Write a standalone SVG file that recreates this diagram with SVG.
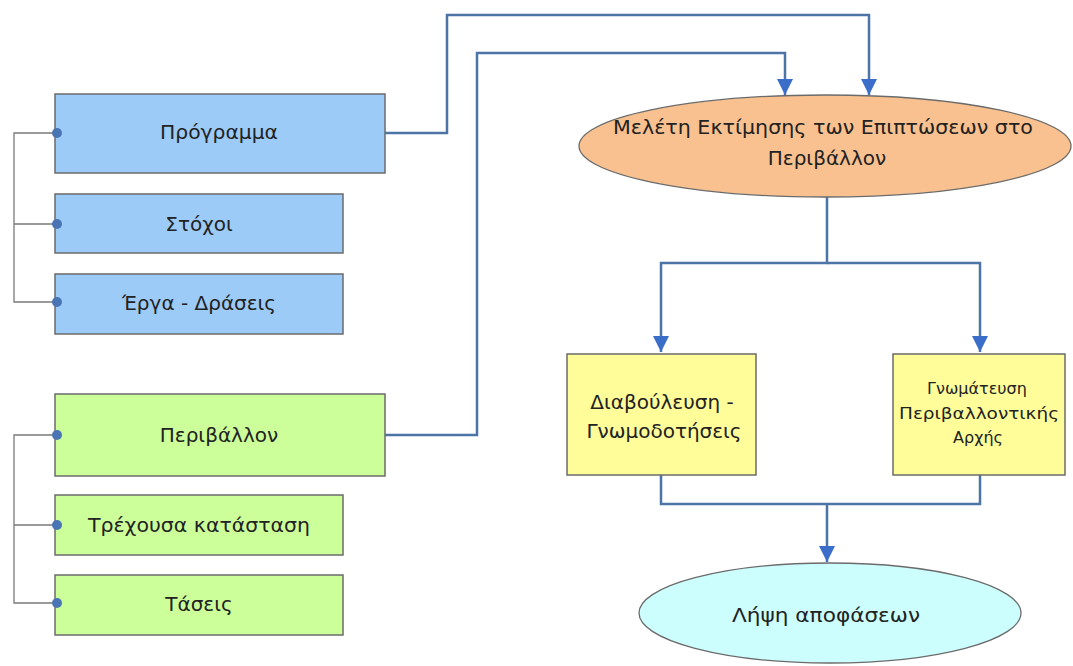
<svg xmlns="http://www.w3.org/2000/svg" width="1073" height="666" viewBox="0 0 1073 666">
<defs>
<style>
.box{stroke:#6b6b6b;stroke-width:1.5}
.blue{fill:#9ccbf8}
.green{fill:#ccfe99}
.yellow{fill:#fefd99}
.t{font-family:"DejaVu Sans","Liberation Sans",sans-serif;font-size:20px;fill:#222;text-anchor:middle}
.ts{font-size:16px}
.tree{fill:none;stroke:#7a7a7a;stroke-width:1.3}
.dot{fill:#4a75b5}
.con{fill:none;stroke:#4d74a6;stroke-width:2.5}
</style>
<marker id="arr" viewBox="0 0 10 10" refX="10" refY="5" markerWidth="6.4" markerHeight="6.4" markerUnits="strokeWidth" orient="auto">
<path d="M0,0 L10,5 L0,10 z" fill="#3a6ec8"/>
</marker>
</defs>
<rect width="1073" height="666" fill="#ffffff"/>
<g id="connectors">
<path class="tree" d="M55,133 H14 V302 H55 M14,224 H55"/>
<path class="tree" d="M55,435 H14 V603 H55 M14,525 H55"/>
<path class="con" d="M385,133 H447 V15 H869 V95" marker-end="url(#arr)"/>
<path class="con" d="M385,435 H477 V53 H785 V95" marker-end="url(#arr)"/>
<path class="con" d="M827,197 V263 H661 V352" marker-end="url(#arr)"/>
<path class="con" d="M827,263 H980 V352" marker-end="url(#arr)"/>
<path class="con" d="M661,475 V504 H980 V475 M827,504 V562" marker-end="url(#arr)"/>
</g>
<g id="programma">
<rect class="box blue" x="55" y="94" width="330" height="79"/>
<circle class="dot" cx="57" cy="133" r="5"/>
<text class="t" x="219" y="139" textLength="118" lengthAdjust="spacingAndGlyphs">Πρόγραμμα</text>
</g>
<g id="stoxoi">
<rect class="box blue" x="55" y="194" width="288" height="59"/>
<circle class="dot" cx="57" cy="224" r="5"/>
<text class="t" x="199" y="231">Στόχοι</text>
</g>
<g id="erga">
<rect class="box blue" x="55" y="274" width="288" height="60"/>
<circle class="dot" cx="57" cy="302" r="5"/>
<text class="t" x="199" y="310">Έργα - Δράσεις</text>
</g>
<g id="perivallon">
<rect class="box green" x="55" y="394" width="330" height="82"/>
<circle class="dot" cx="57" cy="435" r="5"/>
<text class="t" x="219" y="442">Περιβάλλον</text>
</g>
<g id="trexousa">
<rect class="box green" x="55" y="495" width="288" height="60"/>
<circle class="dot" cx="57" cy="525" r="5"/>
<text class="t" x="199" y="532" textLength="222" lengthAdjust="spacingAndGlyphs">Τρέχουσα κατάσταση</text>
</g>
<g id="taseis">
<rect class="box green" x="55" y="575" width="288" height="60"/>
<circle class="dot" cx="57" cy="603" r="5"/>
<text class="t" x="199" y="611">Τάσεις</text>
</g>
<g id="meleti">
<ellipse cx="825" cy="146" rx="246" ry="51" fill="#f9c18f" stroke="#6b6b6b" stroke-width="1.3"/>
<text class="t" x="823" y="134" textLength="420" lengthAdjust="spacingAndGlyphs">Μελέτη Εκτίμησης των Επιπτώσεων στο</text>
<text class="t" x="827" y="165">Περιβάλλον</text>
</g>
<g id="diavouleusi">
<rect class="box yellow" x="567" y="354" width="189" height="121"/>
<text class="t" x="662" y="409">Διαβούλευση -</text>
<text class="t" x="664" y="438">Γνωμοδοτήσεις</text>
</g>
<g id="gnomateusi">
<rect class="box yellow" x="893" y="354" width="172" height="121"/>
<text class="t ts" x="977" y="394">Γνωμάτευση</text>
<text class="t ts" x="979" y="419" textLength="160" lengthAdjust="spacingAndGlyphs">Περιβαλλοντικής</text>
<text class="t ts" x="978" y="443">Αρχής</text>
</g>
<g id="lipsi">
<ellipse cx="830" cy="613" rx="191" ry="50" fill="#ccfefe" stroke="#6b6b6b" stroke-width="1.3"/>
<text class="t" x="826" y="622" textLength="188" lengthAdjust="spacingAndGlyphs">Λήψη αποφάσεων</text>
</g>
</svg>
